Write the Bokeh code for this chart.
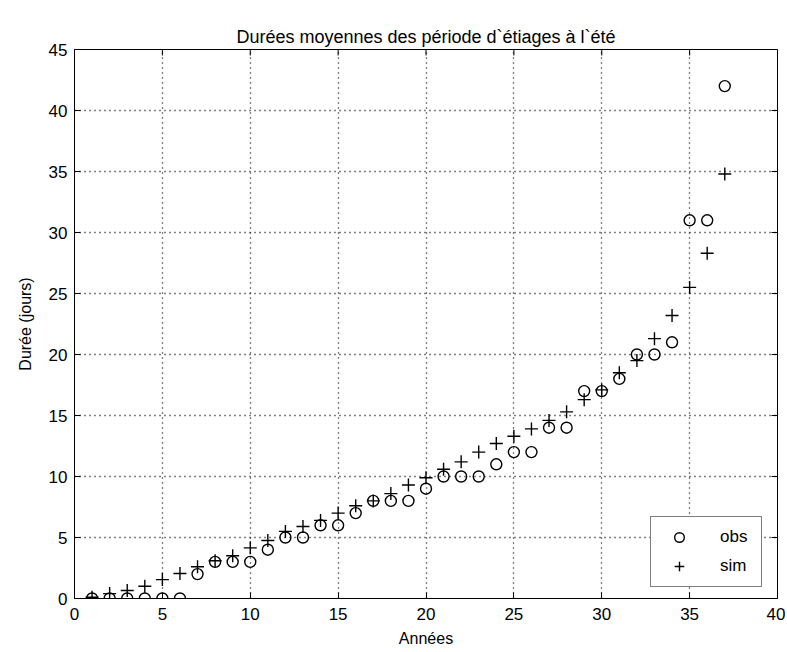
import math
from bokeh.plotting import figure
from bokeh.models import Range1d, FixedTicker, Legend, LegendItem
from bokeh.embed import file_html
from bokeh.resources import INLINE

# ---- data ----
years = list(range(1, 38))
obs = [0, 0, 0, 0, 0, 0, 2, 3, 3, 3, 4, 5, 5, 6, 6, 7, 8, 8, 8, 9,
       10, 10, 10, 11, 12, 12, 14, 14, 17, 17, 18, 20, 20, 21, 31, 31, 42]
sim = [0.1, 0.4, 0.65, 1.0, 1.55, 2.05, 2.6, 3.1, 3.5, 4.15, 4.75, 5.5, 5.9,
       6.4, 7.0, 7.6, 8.0, 8.6, 9.3, 9.9, 10.6, 11.2, 12.0, 12.7, 13.3, 13.9,
       14.6, 15.3, 16.3, 17.1, 18.5, 19.5, 21.3, 23.2, 25.5, 28.3, 34.8]
x_ticks = [0, 5, 10, 15, 20, 25, 30, 35, 40]
y_ticks = [0, 5, 10, 15, 20, 25, 30, 35, 40, 45]
x_lim = (0, 40)
y_lim = (0, 45)
title_text = "Durées moyennes des période d`étiages à l`été"
x_label = "Années"
y_label = "Durée (jours)"
labels = ["obs", "sim"]

FONT = "Liberation Sans"

p = figure(width=785, height=650, output_backend="svg", toolbar_location=None,
           x_range=Range1d(*x_lim), y_range=Range1d(*y_lim),
           min_border_left=74, min_border_right=8, min_border_top=49,
           min_border_bottom=52, title=title_text)
p.title.text_font = FONT
p.title.text_font_size = "18px"
p.title.text_font_style = "normal"
p.title.align = "center"
p.title.text_color = "black"
p.title.standoff = 6

p.outline_line_color = "black"
p.outline_line_width = 1
p.background_fill_color = "white"
p.border_fill_color = "white"

for ax in (p.xaxis[0], p.yaxis[0]):
    ax.major_tick_in = 6
    ax.major_tick_out = 0
    ax.minor_tick_line_color = None
    ax.major_tick_line_color = "black"
    ax.axis_line_color = "black"
    ax.major_label_text_font = FONT
    ax.major_label_text_font_size = "17px"
    ax.major_label_text_color = "black"
    ax.axis_label_text_font = FONT
    ax.axis_label_text_font_size = "16px"
    ax.axis_label_text_font_style = "normal"
    ax.axis_label_text_color = "black"

p.xaxis[0].ticker = FixedTicker(ticks=x_ticks)
p.yaxis[0].ticker = FixedTicker(ticks=y_ticks)
p.xaxis[0].axis_label = x_label
p.yaxis[0].axis_label = y_label
p.xaxis[0].major_label_standoff = 9
p.yaxis[0].major_label_standoff = 7
p.xaxis[0].axis_label_standoff = 7
p.yaxis[0].axis_label_standoff = 12

p.xgrid.ticker = FixedTicker(ticks=x_ticks)
p.ygrid.ticker = FixedTicker(ticks=y_ticks)
p.grid.grid_line_color = "black"
p.grid.grid_line_dash = "1 4"
p.grid.grid_line_width = 1.3

# mirrored inward ticks on the top and right edges (MATLAB box style)
p.ray(x=x_ticks, y=[y_lim[1]] * len(x_ticks), length=6, length_units="screen",
      angle=-math.pi / 2, line_color="black", line_width=1)
p.ray(x=[x_lim[1]] * len(y_ticks), y=y_ticks, length=6, length_units="screen",
      angle=math.pi, line_color="black", line_width=1)

r_obs = p.scatter(years, obs, marker="circle", size=11, fill_color=None,
                  line_color="black", line_width=1.4)
r_sim = p.scatter(years, sim, marker="cross", size=13, line_color="black",
                  line_width=1.4)

legend = Legend(items=[LegendItem(label=labels[0], renderers=[r_obs]),
                       LegendItem(label=labels[1], renderers=[r_sim])],
                location=(576, 11))
legend.label_text_font = FONT
legend.label_text_font_size = "17px"
legend.label_text_color = "black"
legend.border_line_color = "black"
legend.border_line_width = 1
legend.background_fill_alpha = 1
legend.padding = 8
legend.spacing = 5
legend.glyph_width = 40
legend.label_standoff = 21
legend.label_width = 33
legend.label_height = 24
legend.glyph_height = 24
legend.margin = 0
p.add_layout(legend, "center")

open("out.html", "w").write(file_html(p, INLINE))
